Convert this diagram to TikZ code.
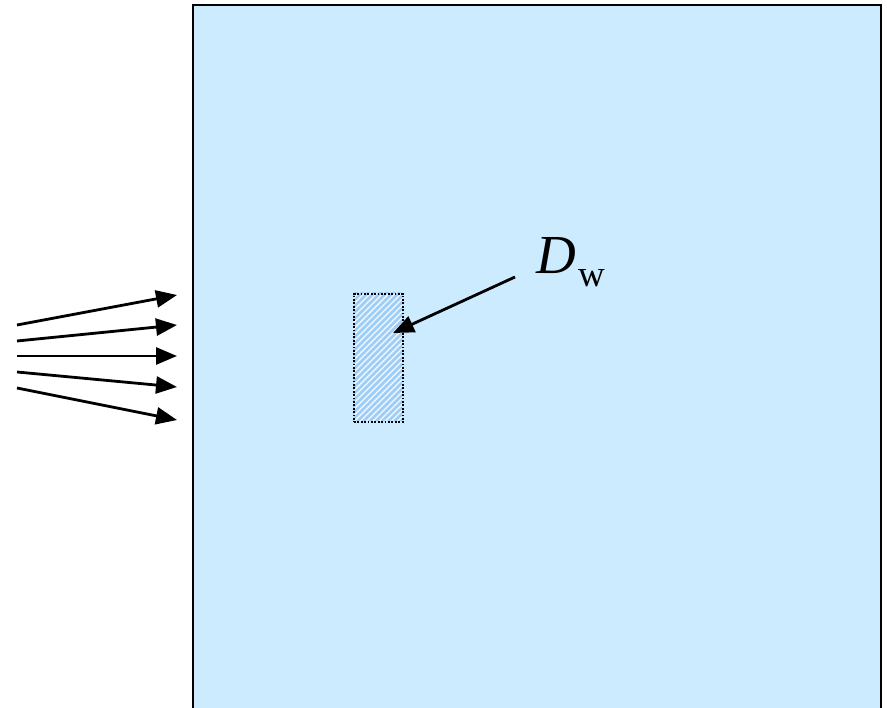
\documentclass[tikz,border=0pt]{standalone}
\usepackage{fontspec}
\setmainfont{Liberation Serif}
\usetikzlibrary{arrows.meta}
\definecolor{slab}{HTML}{CCEBFF}
\definecolor{hatchbg}{HTML}{EAF6FF}
\definecolor{hatchln}{HTML}{9ECDF6}
\tikzset{
  ray/.style={line width=2.8pt,-{Triangle[length=21pt,width=17pt]}},
  pointer/.style={line width=2.8pt,-{Triangle[length=21pt,width=17pt]}},
  detector/.style={draw=black,line width=1.8pt,dash pattern=on 1.8pt off 1.6pt,
    minimum width=49pt,minimum height=128pt,inner sep=0pt},
  hatch/.style={draw=hatchln,line width=2.6pt},
}
\begin{document}
\begin{tikzpicture}[x=1pt,y=-1pt]
\useasboundingbox (0,0) rectangle (887,708);
\clip (0,0) rectangle (887,708);
% water phantom
\draw[fill=slab,line width=2.2pt] (193,5) rectangle (881,730);
% dosimeter volume, hatched with rising diagonals
\begin{scope}
  \clip (353,293) rectangle (402,421);
  \fill[hatchbg] (353,293) rectangle (402,421);
  \foreach \k in {0,6.2,...,200} \draw[hatch] (205+\k,431) -- ++(160,-160);
\end{scope}
\node[detector,anchor=north west] (det) at (353,293) {};
% incident beam
\coordinate (s1) at (17,325); \coordinate (e1) at (177,295);
\coordinate (s2) at (17,341); \coordinate (e2) at (177,325);
\coordinate (s3) at (17,356); \coordinate (e3) at (177,356);
\coordinate (s4) at (17,372); \coordinate (e4) at (177,387);
\coordinate (s5) at (17,388); \coordinate (e5) at (177,420);
\foreach \i in {1,...,5} \draw[ray] (s\i) -- (e\i);
% label
\node[anchor=base west,inner sep=0pt,font=\fontsize{55}{60}\selectfont] (lbl) at (536,274) {\textit{D}};
\node[anchor=base west,inner sep=0pt,font=\fontsize{37}{42}\selectfont] (sub) at (578,287) {w};
\coordinate (ptail) at (515,277);
\coordinate (phead) at (393,333);
\draw[pointer] (ptail) -- (phead);
\end{tikzpicture}
\end{document}
